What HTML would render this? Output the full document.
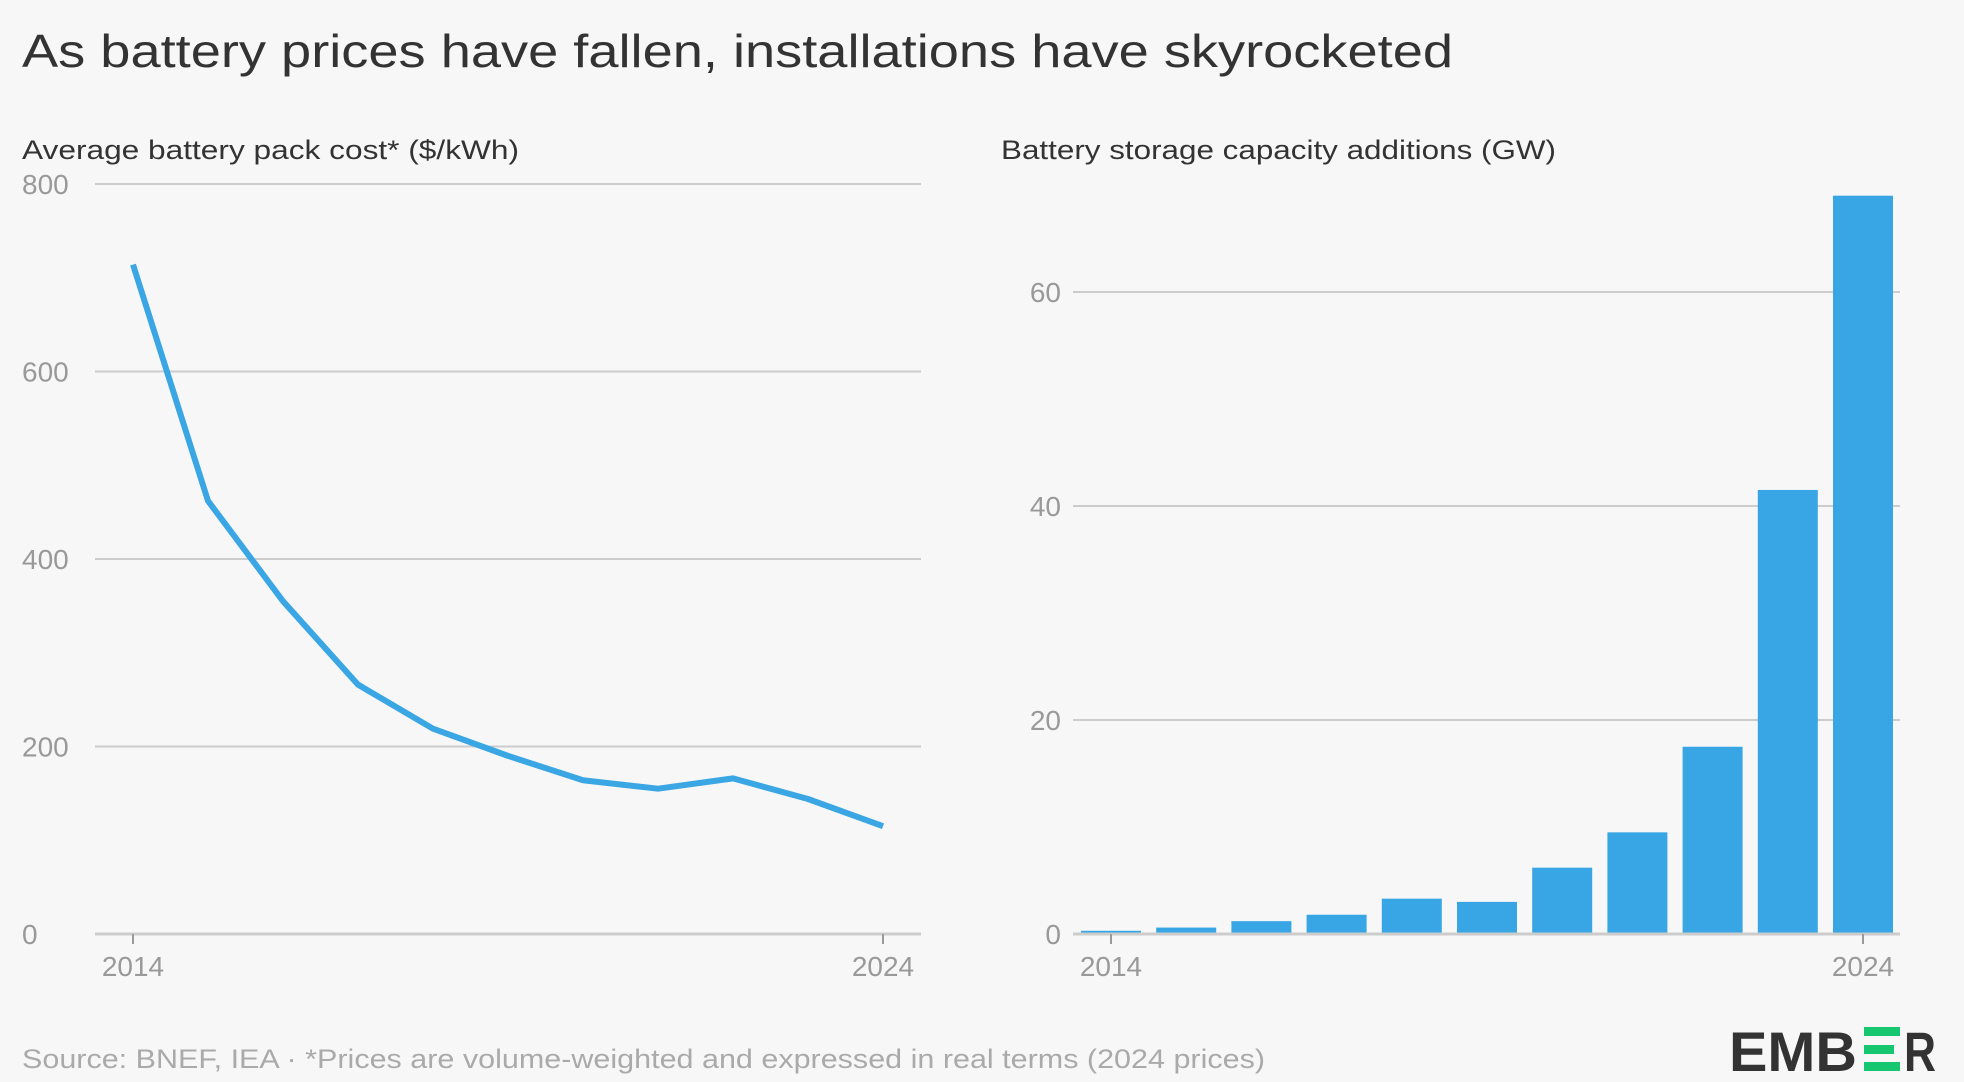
<!DOCTYPE html>
<html><head><meta charset="utf-8"><style>
html,body{margin:0;padding:0;background:#f7f7f7;}
svg{display:block;font-family:"Liberation Sans",sans-serif;}
</style></head><body>
<svg id="c" width="1964" height="1082" viewBox="0 0 1964 1082">
<rect width="1964" height="1082" fill="#f7f7f7"/>
<text x="22" y="67" font-size="46" fill="#333" textLength="1431" lengthAdjust="spacingAndGlyphs">As battery prices have fallen, installations have skyrocketed</text>
<text x="22" y="159" font-size="27" fill="#333" textLength="497" lengthAdjust="spacingAndGlyphs">Average battery pack cost* ($/kWh)</text>
<text x="1001" y="159" font-size="27" fill="#333" textLength="555" lengthAdjust="spacingAndGlyphs">Battery storage capacity additions (GW)</text>
<g id="left"></g>
<g id="right"></g>
<text x="22" y="1068" font-size="27" fill="#aaa" textLength="1243" lengthAdjust="spacingAndGlyphs">Source: BNEF, IEA · *Prices are volume-weighted and expressed in real terms (2024 prices)</text>
<g>
<text x="1729" y="1071" font-size="56" font-weight="bold" fill="#333" textLength="128" lengthAdjust="spacingAndGlyphs">EMB</text>
<rect x="1864" y="1027" width="36" height="9" fill="#16c76f"/>
<rect x="1864" y="1045" width="30" height="9" fill="#16c76f"/>
<rect x="1864" y="1062" width="36" height="9" fill="#16c76f"/>
<text x="1904" y="1071" font-size="56" font-weight="bold" fill="#333" textLength="32" lengthAdjust="spacingAndGlyphs">R</text>
</g>
</svg>
<script>
const years = [2014,2015,2016,2017,2018,2019,2020,2021,2022,2023,2024];
const costValues = [714,462,355,266,219,190,164,155,166,144,115];
const capacityValues = [0.3,0.6,1.2,1.8,3.3,3.0,6.2,9.5,17.5,41.5,69];
const costTicks = [0,200,400,600,800];
const capTicks = [0,20,40,60];
const xTickLabels = ["2014","2024"];

const NS="http://www.w3.org/2000/svg";
function mk(parent,tag,attrs){const e=document.createElementNS(NS,tag);for(const k in attrs)e.setAttribute(k,attrs[k]);parent.appendChild(e);return e;}

// Left chart
const L=document.getElementById('left');
const lx=i=>133+(883-133)*i/(years.length-1);
const ly=v=>934-(934-184)*v/800;
costTicks.forEach(t=>{
  const g=mk(L,'line',{x1:95,x2:921,y1:ly(t),y2:ly(t),stroke:'#ccc','stroke-width':t===0?3:2});
  
  
  const tx=mk(L,'text',{x:22,y:ly(t)+10,'font-size':28,fill:'#999'});
  tx.textContent=t;
  
  
});
[0,years.length-1].forEach((i,j)=>{
  const tk=mk(L,'line',{x1:lx(i),x2:lx(i),y1:934,y2:944,stroke:'#999','stroke-width':2});
  
  
  const tx=mk(L,'text',{x:lx(i),y:976,'font-size':28,fill:'#999','text-anchor':'middle'});
  tx.textContent=xTickLabels[j];
  
  
});
const pl=mk(L,'polyline',{points:costValues.map((v,i)=>lx(i)+','+ly(v)).join(' '),fill:'none',stroke:'#3aa6e4','stroke-width':6,'stroke-linejoin':'round'});



// Right chart
const R=document.getElementById('right');
const rx=i=>1111+(1863-1111)*i/(years.length-1);
const ry=v=>934-(934-292)*v/60;
capTicks.forEach(t=>{
  const g=mk(R,'line',{x1:1073,x2:1900,y1:ry(t),y2:ry(t),stroke:'#ccc','stroke-width':2});
  
  
  const tx=mk(R,'text',{x:1061,y:ry(t)+10,'font-size':28,fill:'#999','text-anchor':'end'});
  tx.textContent=t;
  
  
});
capacityValues.forEach((v,i)=>{
  const b=mk(R,'rect',{x:rx(i)-30,y:ry(v),width:60,height:934-ry(v),fill:'#38a6e4'});
  
  
});
const ax=mk(R,'line',{x1:1073,x2:1900,y1:934,y2:934,stroke:'#ccc','stroke-width':3});


[0,years.length-1].forEach((i,j)=>{
  const tk=mk(R,'line',{x1:rx(i),x2:rx(i),y1:934,y2:944,stroke:'#999','stroke-width':2});
  
  
  const tx=mk(R,'text',{x:rx(i),y:976,'font-size':28,fill:'#999','text-anchor':'middle'});
  tx.textContent=xTickLabels[j];
  
  
});
</script>
</body></html>
